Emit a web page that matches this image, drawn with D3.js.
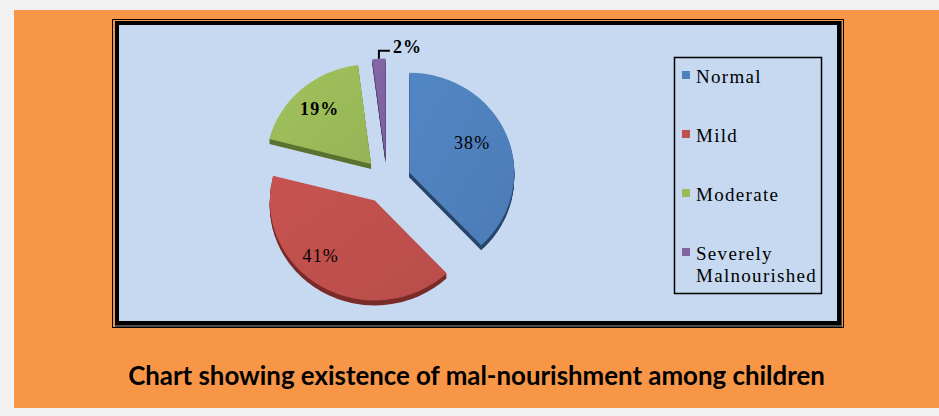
<!DOCTYPE html>
<html><head><meta charset="utf-8">
<script src="https://cdn.jsdelivr.net/npm/d3@7"></script>
<style>html,body{margin:0;padding:0;background:#f1f1f1;overflow:hidden}
.serif{font-family:"Liberation Serif","DejaVu Serif","Times New Roman",serif}</style>
</head><body><svg id="c" width="939" height="416"></svg>
<script>
// ---- data ----
const categories = ["Normal", "Mild", "Moderate", "Severely Malnourished"];
const values = [38, 41, 19, 2];
const valueLabels = ["38%", "41%", "19%", "2%"];
const legendLines = [["Normal"], ["Mild"], ["Moderate"], ["Severely", "Malnourished"]];
const titleText = "Chart showing existence of mal-nourishment among children";

// ---- style ----
const colors = ["#4f81bd", "#c0504d", "#9bbb59", "#8064a2"];
const sideColors = ["#28456b", "#7a2c2a", "#5b7330", "#4a3866"];
const labelWeights = ["normal", "normal", "bold", "bold"];
const labelRadius = [0.67, 0.76, 0.74];
const labelNudge = [-5, 12, 0];

const svg = d3.select("#c");
// background
svg.append("rect").attr("x", 14).attr("y", 10).attr("width", 925).attr("height", 398).attr("fill", "#f79646");
// chart frame
svg.append("rect").attr("x", 112.5).attr("y", 19.5).attr("width", 731).attr("height", 308).attr("fill", "none").attr("stroke", "#000").attr("stroke-width", 1);
svg.append("rect").attr("x", 115).attr("y", 21).attr("width", 727).attr("height", 306).attr("fill", "#4a4a4a");
svg.append("rect").attr("x", 115).attr("y", 21).attr("width", 726).attr("height", 304).attr("fill", "#000");
svg.append("rect").attr("x", 119).attr("y", 25).attr("width", 718).attr("height", 296).attr("fill", "#c6d9f0");

// pie
const cx = 387, cy = 181, r = 105, sy = 0.95, explode = 24, depth = 5;
const pie = d3.pie().sort(null).value(d => d);
const arcs = pie(values);
const arc = d3.arc().innerRadius(0).outerRadius(r);

function vertex(a) {
  const m = (a.startAngle + a.endAngle) / 2;
  return [cx + explode * Math.sin(m), cy - explode * Math.cos(m) * sy];
}
const pg = svg.append("g");
arcs.forEach((a, i) => {
  const [vx, vy] = vertex(a);
  for (let k = depth; k >= 1; k--) {
    pg.append("path").attr("d", arc(a))
      .attr("transform", `translate(${vx},${vy + k}) scale(1,${sy})`)
      .attr("fill", sideColors[i]);
  }
});
const defs = svg.append("defs");
colors.forEach((c, i) => {
  const g = defs.append("linearGradient").attr("id", "g" + i).attr("x1", 0).attr("y1", 0).attr("x2", 1).attr("y2", 1);
  g.append("stop").attr("offset", 0).attr("stop-color", d3.color(c).brighter(0.1));
  g.append("stop").attr("offset", 1).attr("stop-color", d3.color(c).darker(0.1));
});
arcs.forEach((a, i) => {
  const [vx, vy] = vertex(a);
  pg.append("path").attr("d", arc(a))
    .attr("transform", `translate(${vx},${vy}) scale(1,${sy})`)
    .attr("fill", `url(#g${i})`);
});

// labels
arcs.forEach((a, i) => {
  const [vx, vy] = vertex(a);
  if (i < 3) {
    const m = (a.startAngle + a.endAngle) / 2 + labelNudge[i] * Math.PI / 180;
    const d = r * labelRadius[i];
    svg.append("text").attr("class", "serif").attr("x", vx + d * Math.sin(m)).attr("y", vy - d * Math.cos(m) * sy + 6)
      .attr("text-anchor", "middle").attr("font-size", 18)
      .attr("letter-spacing", 1.2).attr("font-weight", labelWeights[i]).attr("fill", "#000")
      .text(valueLabels[i]);
  } else {
    const m = (a.startAngle + a.endAngle) / 2;
    const sx0 = vx + r * Math.sin(m), sy0 = vy - r * Math.cos(m) * sy;
    const ly = sy0 - 8, lx = sx0 + 11;
    svg.append("path").attr("d", `M${sx0},${sy0}V${ly}H${lx}`).attr("fill", "none").attr("stroke", "#000").attr("stroke-width", 2);
    svg.append("text").attr("class", "serif").attr("x", lx + 3).attr("y", ly + 2).attr("font-size", 18)
      .attr("letter-spacing", 1.2).attr("font-weight", labelWeights[i]).attr("fill", "#000").text(valueLabels[i]);
  }
});

// legend
svg.append("rect").attr("x", 674.5).attr("y", 57.5).attr("width", 147).attr("height", 236)
  .attr("fill", "none").attr("stroke", "#000").attr("stroke-width", 1.5);
const legStep = 59;
categories.forEach((c, i) => {
  const top = 71 + i * legStep;
  svg.append("rect").attr("x", 682).attr("y", top).attr("width", 8).attr("height", 8).attr("fill", colors[i]);
  legendLines[i].forEach((ln, j) => {
    svg.append("text").attr("class", "serif").attr("x", 696).attr("y", top + 12 + j * 22)
      .attr("font-size", 19).attr("letter-spacing", 1.3)
      .attr("fill", "#000").text(ln);
  });
});

// title
const t = svg.append("text").attr("x", 476.5).attr("y", 385).attr("text-anchor", "middle")
  .attr("font-family", "Lato, 'Open Sans', sans-serif").attr("font-weight", "bold")
  .attr("font-size", 22).attr("fill", "#000").text(titleText);
const w = t.node().getComputedTextLength();
t.attr("font-size", 22 * 697 / w);
</script></body></html>
